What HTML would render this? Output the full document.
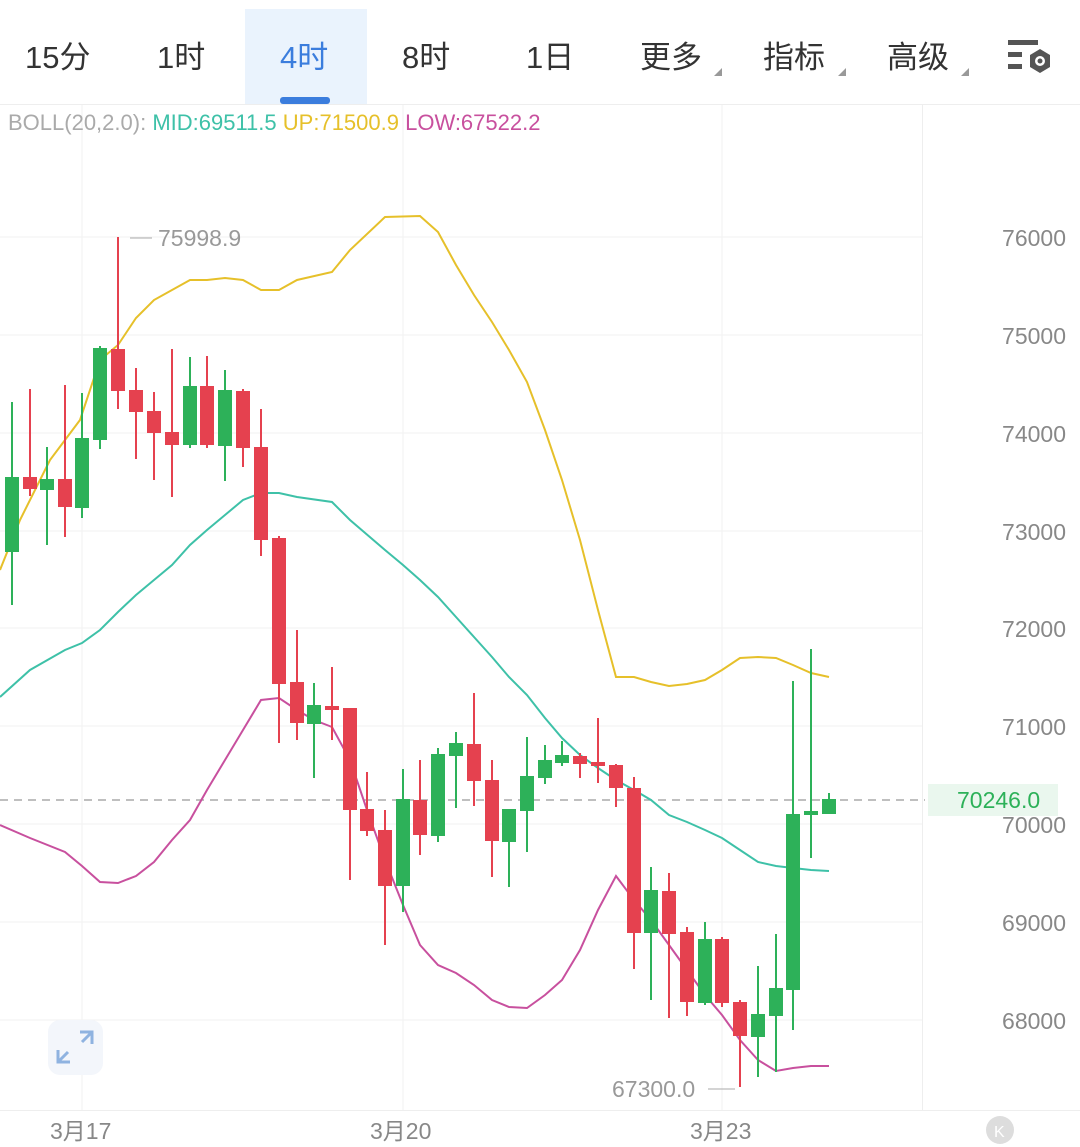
<!DOCTYPE html><html><head><meta charset="utf-8"><style>
body{margin:0;width:1080px;height:1147px;background:#fff;overflow:hidden;font-family:"Liberation Sans","Noto Sans CJK SC",sans-serif}
</style></head><body>
<svg width="1080" height="1147" viewBox="0 0 1080 1147" xmlns="http://www.w3.org/2000/svg" style="position:absolute;left:0;top:0">
<rect x="245" y="9" width="122" height="95" fill="#eaf3fd"/>
<rect x="280" y="97" width="50" height="7" rx="3" fill="#3b7ddd"/>
<line x1="0" y1="104.5" x2="1080" y2="104.5" stroke="#eeeeee"/>
<g font-family="Liberation Sans,Noto Sans CJK SC,sans-serif" font-size="31" fill="#333">
<text x="25" y="68">15分</text><text x="157" y="68">1时</text>
<text x="280" y="68" fill="#3b7ddd">4时</text>
<text x="402" y="68">8时</text><text x="526" y="68">1日</text>
<text x="640" y="68">更多</text><text x="763" y="68">指标</text><text x="887" y="68">高级</text>
</g>
<g fill="#999"><path d="M714 76l8-8v8z"/><path d="M838 76l8-8v8z"/><path d="M961 76l8-8v8z"/></g>
<g fill="#555"><rect x="1008" y="40" width="30" height="5"/><rect x="1008" y="52" width="14" height="5"/><rect x="1008" y="64" width="14" height="5"/>
<path d="M1040 49l10 6v12l-10 6l-10-6v-12z" fill="#555"/><circle cx="1040" cy="61" r="5" fill="#fff"/><circle cx="1040" cy="61" r="2.5" fill="#555"/></g>
<line x1="922.5" y1="105" x2="922.5" y2="1110" stroke="#eeeeee"/>
<g stroke="#f2f2f2"><line x1="0" y1="237" x2="922" y2="237"/><line x1="0" y1="335" x2="922" y2="335"/><line x1="0" y1="433" x2="922" y2="433"/><line x1="0" y1="531" x2="922" y2="531"/><line x1="0" y1="628" x2="922" y2="628"/><line x1="0" y1="726" x2="922" y2="726"/><line x1="0" y1="824" x2="922" y2="824"/><line x1="0" y1="922" x2="922" y2="922"/><line x1="0" y1="1020" x2="922" y2="1020"/>
<line x1="82" y1="105" x2="82" y2="1110"/><line x1="403" y1="105" x2="403" y2="1110"/><line x1="722" y1="105" x2="722" y2="1110"/></g>
<line x1="0" y1="1110.5" x2="1080" y2="1110.5" stroke="#eeeeee"/>
<text x="8" y="130" font-size="22" fill="#aaa">BOLL(20,2.0): <tspan fill="#3ec1a8">MID:69511.5</tspan> <tspan fill="#e6c02a">UP:71500.9</tspan> <tspan fill="#c8509e">LOW:67522.2</tspan></text>
<g font-size="23" fill="#888" text-anchor="end"><text x="1066" y="246">76000</text><text x="1066" y="344">75000</text><text x="1066" y="442">74000</text><text x="1066" y="540">73000</text><text x="1066" y="637">72000</text><text x="1066" y="735">71000</text><text x="1066" y="833">70000</text><text x="1066" y="931">69000</text><text x="1066" y="1029">68000</text></g>
<g font-size="23" fill="#888"><text x="50" y="1139">3月17</text><text x="370" y="1139">3月20</text><text x="690" y="1139">3月23</text></g>
<line x1="0" y1="800" x2="925" y2="800" stroke="#aaa" stroke-width="1.5" stroke-dasharray="8,6"/>
<rect x="928" y="784" width="130" height="32" fill="#eaf7ee"/>
<text x="957" y="808" font-size="23" fill="#2db159">70246.0</text>
<polyline fill="none" stroke="#e6c02a" stroke-width="2" points="0,570 20,520 50,460 80,420 100,360 118,345 136,318 154,300 190,280 207,280 225,278 243,280 261,290 279,290 297,280 332,272 350,250 385,217 420,216 438,232 456,265 474,295 492,322 509,350 527,382 545,430 562,480 580,540 598,610 616,677 634,677 651,682 669,686 687,684 705,680 722,670 740,658 758,657 776,658 793,665 811,673 829,677"/>
<polyline fill="none" stroke="#3ec1a8" stroke-width="2" points="0,697 30,670 65,650 82,643 100,630 118,612 136,595 154,580 172,565 190,545 207,530 225,515 243,500 261,493 279,493 297,497 332,502 350,520 385,550 403,565 420,580 438,597 456,617 474,637 492,657 509,677 527,695 545,718 562,738 580,755 598,768 616,780 634,790 651,800 669,815 687,822 705,830 722,838 740,850 758,862 776,866 793,868 811,870 829,871"/>
<polyline fill="none" stroke="#c8509e" stroke-width="2" points="0,825 30,838 65,852 82,866 100,882 118,883 136,876 154,862 172,840 190,820 207,790 225,760 243,730 261,700 279,698 297,710 314,720 332,727 350,760 367,810 385,860 403,905 420,945 438,965 456,973 474,985 492,1000 509,1007 527,1008 545,995 562,980 580,950 598,910 616,876 634,900 651,920 669,945 687,970 705,995 722,1015 740,1040 758,1060 776,1071 793,1068 811,1066 829,1066"/>
<g stroke-width="2">
<g stroke="#2db159" fill="#2db159">
<line x1="12" y1="402" x2="12" y2="605"/><rect x="6" y="478" width="12" height="73"/>
<line x1="47" y1="447" x2="47" y2="545"/><rect x="41" y="480" width="12" height="9"/>
<line x1="82" y1="393" x2="82" y2="518"/><rect x="76" y="439" width="12" height="68"/>
<line x1="100" y1="346" x2="100" y2="449"/><rect x="94" y="349" width="12" height="90"/>
<line x1="190" y1="357" x2="190" y2="448"/><rect x="184" y="387" width="12" height="57"/>
<line x1="225" y1="370" x2="225" y2="481"/><rect x="219" y="391" width="12" height="54"/>
<line x1="314" y1="683" x2="314" y2="778"/><rect x="308" y="706" width="12" height="17"/>
<line x1="403" y1="769" x2="403" y2="912"/><rect x="397" y="800" width="12" height="85"/>
<line x1="438" y1="748" x2="438" y2="842"/><rect x="432" y="755" width="12" height="80"/>
<line x1="456" y1="732" x2="456" y2="808"/><rect x="450" y="744" width="12" height="11"/>
<line x1="509" y1="809" x2="509" y2="887"/><rect x="503" y="810" width="12" height="31"/>
<line x1="527" y1="737" x2="527" y2="852"/><rect x="521" y="777" width="12" height="33"/>
<line x1="545" y1="745" x2="545" y2="784"/><rect x="539" y="761" width="12" height="16"/>
<line x1="562" y1="741" x2="562" y2="766"/><rect x="556" y="756" width="12" height="6"/>
<line x1="651" y1="867" x2="651" y2="1000"/><rect x="645" y="891" width="12" height="41"/>
<line x1="705" y1="922" x2="705" y2="1005"/><rect x="699" y="940" width="12" height="62"/>
<line x1="758" y1="966" x2="758" y2="1077"/><rect x="752" y="1015" width="12" height="21"/>
<line x1="776" y1="934" x2="776" y2="1072"/><rect x="770" y="989" width="12" height="26"/>
<line x1="793" y1="681" x2="793" y2="1030"/><rect x="787" y="815" width="12" height="174"/>
<line x1="811" y1="649" x2="811" y2="858"/><rect x="805" y="812" width="12" height="2"/>
<line x1="829" y1="793" x2="829" y2="812"/><rect x="823" y="800" width="12" height="13"/>
</g>
<g stroke="#e5414f" fill="#e5414f">
<line x1="30" y1="389" x2="30" y2="496"/><rect x="24" y="478" width="12" height="10"/>
<line x1="65" y1="385" x2="65" y2="537"/><rect x="59" y="480" width="12" height="26"/>
<line x1="118" y1="237" x2="118" y2="409"/><rect x="112" y="350" width="12" height="40"/>
<line x1="136" y1="368" x2="136" y2="459"/><rect x="130" y="391" width="12" height="20"/>
<line x1="154" y1="392" x2="154" y2="480"/><rect x="148" y="412" width="12" height="20"/>
<line x1="172" y1="349" x2="172" y2="497"/><rect x="166" y="433" width="12" height="11"/>
<line x1="207" y1="356" x2="207" y2="448"/><rect x="201" y="387" width="12" height="57"/>
<line x1="243" y1="389" x2="243" y2="467"/><rect x="237" y="392" width="12" height="55"/>
<line x1="261" y1="409" x2="261" y2="556"/><rect x="255" y="448" width="12" height="91"/>
<line x1="279" y1="536" x2="279" y2="743"/><rect x="273" y="539" width="12" height="144"/>
<line x1="297" y1="630" x2="297" y2="740"/><rect x="291" y="683" width="12" height="39"/>
<line x1="332" y1="667" x2="332" y2="740"/><rect x="326" y="707" width="12" height="2"/>
<line x1="350" y1="708" x2="350" y2="880"/><rect x="344" y="709" width="12" height="100"/>
<line x1="367" y1="772" x2="367" y2="836"/><rect x="361" y="810" width="12" height="20"/>
<line x1="385" y1="810" x2="385" y2="945"/><rect x="379" y="831" width="12" height="54"/>
<line x1="420" y1="760" x2="420" y2="855"/><rect x="414" y="801" width="12" height="33"/>
<line x1="474" y1="693" x2="474" y2="806"/><rect x="468" y="745" width="12" height="35"/>
<line x1="492" y1="760" x2="492" y2="877"/><rect x="486" y="781" width="12" height="59"/>
<line x1="580" y1="753" x2="580" y2="778"/><rect x="574" y="757" width="12" height="6"/>
<line x1="598" y1="718" x2="598" y2="783"/><rect x="592" y="763" width="12" height="2"/>
<line x1="616" y1="764" x2="616" y2="807"/><rect x="610" y="766" width="12" height="21"/>
<line x1="634" y1="777" x2="634" y2="969"/><rect x="628" y="789" width="12" height="143"/>
<line x1="669" y1="873" x2="669" y2="1018"/><rect x="663" y="892" width="12" height="41"/>
<line x1="687" y1="927" x2="687" y2="1016"/><rect x="681" y="933" width="12" height="68"/>
<line x1="722" y1="937" x2="722" y2="1007"/><rect x="716" y="940" width="12" height="62"/>
<line x1="740" y1="1000" x2="740" y2="1087"/><rect x="734" y="1003" width="12" height="32"/>
</g></g>
<line x1="130" y1="238" x2="152" y2="238" stroke="#aaa"/>
<text x="158" y="246" font-size="23" fill="#999">75998.9</text>
<text x="612" y="1097" font-size="23" fill="#999">67300.0</text>
<line x1="708" y1="1089" x2="735" y2="1089" stroke="#aaa"/>
<rect x="48" y="1020" width="55" height="55" rx="12" fill="#f3f6fb"/>
<g stroke="#8fb3e0" stroke-width="3" fill="none"><path d="M80 1032h12v12M92 1032l-10 10M70 1062h-12v-12M58 1062l10-10"/></g>
<circle cx="1000" cy="1130" r="14" fill="#ddd"/>
<text x="994" y="1137" font-size="16" fill="#fff">K</text>
</svg>
</body></html>
